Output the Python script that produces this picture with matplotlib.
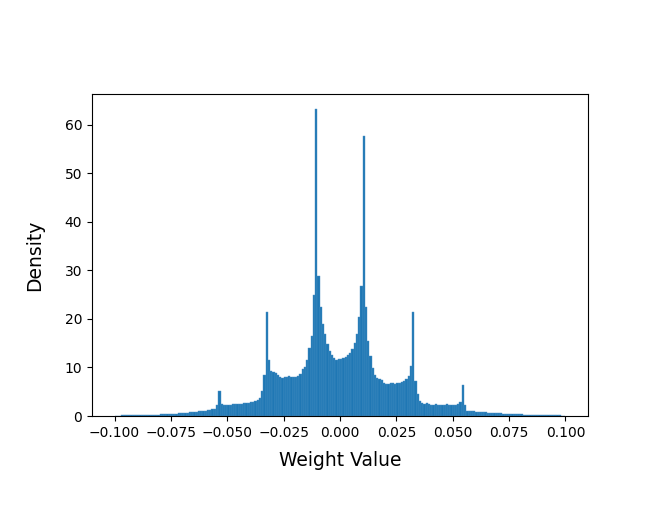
import numpy as np
import matplotlib
matplotlib.use("Agg")
import matplotlib.pyplot as plt

# histogram of weight values, 200 bins between -0.1 and 0.1 (density)
bin_range = (-0.1, 0.1)

density = [
    0.08, 0.10, 0.10, 0.11, 0.12, 0.13, 0.14, 0.15, 0.16, 0.17,
    0.18, 0.19, 0.20, 0.21, 0.22, 0.24, 0.25, 0.27, 0.28, 0.30,
    0.32, 0.34, 0.36, 0.38, 0.40, 0.43, 0.46, 0.50, 0.53, 0.57,
    0.61, 0.65, 0.70, 0.75, 0.80, 0.85, 0.90, 0.95, 1.00, 1.05,
    1.10, 1.15, 1.25, 1.35, 1.50, 2.20, 5.20,
    2.40, 2.20, 2.30, 2.30, 2.35, 2.40, 2.40, 2.45, 2.50, 2.50,
    2.60, 2.60, 2.70, 2.80, 2.90, 3.10, 3.30, 3.80, 5.20, 8.50,
    21.5,
    11.5, 9.3, 9.0, 8.8, 8.5, 8.0, 7.8, 8.0, 8.1, 8.2,
    8.0, 8.1, 8.1, 8.3, 8.7, 9.6, 10.2, 11.5, 14.0, 16.4, 24.9,
    63.2,
    28.9, 22.5, 19.0, 16.8, 14.8, 13.4, 12.6, 12.0, 11.6, 11.8,
    11.7, 11.9, 12.2, 12.6, 13.0, 13.8, 15.0, 16.8, 20.3, 26.8,
    57.8,
    22.5, 15.5, 12.3, 9.8, 8.5, 7.8, 7.6, 7.4, 6.9, 6.6,
    6.6, 6.9, 6.7, 6.6, 6.7, 6.9, 7.1, 7.3, 7.7, 8.2, 10.3,
    21.4,
    7.2, 4.6, 3.0, 2.6, 2.5, 2.6, 2.4, 2.3, 2.3, 2.4,
    2.3, 2.3, 2.2, 2.3, 2.4, 2.3, 2.3, 2.3, 2.2, 2.5, 2.9,
    6.3,
    2.2, 1.1, 1.0, 0.98, 0.95, 0.90, 0.85, 0.80, 0.78, 0.75,
    0.72, 0.70, 0.66, 0.62, 0.58, 0.55, 0.52, 0.50, 0.47, 0.44,
    0.42, 0.40, 0.38, 0.36, 0.34, 0.32, 0.30, 0.28, 0.27, 0.25,
    0.24, 0.22, 0.21, 0.20, 0.19, 0.18, 0.17, 0.16, 0.15, 0.14,
    0.13, 0.12, 0.11, 0.10, 0.09,
]

edges = np.linspace(bin_range[0], bin_range[1], len(density) + 1)
centers = (edges[:-1] + edges[1:]) / 2

fig = plt.figure(figsize=(6.64, 5.13), dpi=100)
ax = fig.add_axes([92 / 664, 1 - 416 / 513, 496 / 664, 322 / 513])

# thin light edges give the faint seams between bars seen in the original
ax.hist(centers, bins=edges, weights=density, color="#1f77b4",
        edgecolor="#4a90c4", linewidth=0.3)

ax.set_xlabel("Weight Value", fontsize=13.5, labelpad=8)
ax.set_ylabel("Density", fontsize=13.5, labelpad=15)

fig.savefig("out.png", dpi=100)
